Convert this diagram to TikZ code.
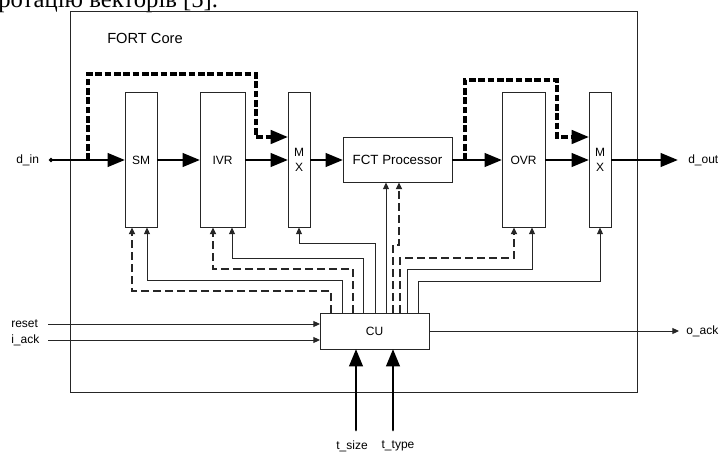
\documentclass[tikz,border=0pt]{standalone}
\usepackage{fontspec}
\setmainfont{Liberation Sans}
\newfontfamily\textserif{Liberation Serif}
\usepackage{tikz}
\usetikzlibrary{arrows.meta,positioning,calc}

\begin{document}
\begin{tikzpicture}[
    x=0.75pt, y=-0.75pt,
    every node/.style={
        font=\fontsize{9}{10.8}\selectfont
    },
    box/.style={
        draw=black!85,
        line width=0.75pt,
        rectangle,
        align=center,
        inner sep=0pt,
        outer sep=0pt,
        minimum height=101.25pt
    },
    lbl/.style={inner sep=0pt},
    bus/.style={-{Triangle[length=13pt,width=10pt]}, line width=2.2pt},
    bypass/.style={bus, line width=2.6pt, dash pattern=on 5pt off 2pt},
    ctl/.style={-{Triangle[length=5pt,width=4.5pt]}, line width=0.75pt, black!85},
    ctldash/.style={ctl, line width=1.6pt, dash pattern=on 6pt off 3pt}
]
\useasboundingbox (0,0) rectangle (720,452);

%--- end of the text line above the figure ---%
\node[lbl, anchor=base west, font=\textserif\fontsize{18.5}{20}\selectfont]
    (prevtext) at (-2,8) {ротацію векторів [5].};

%-----------------------------------------------
% FORT CORE FRAME
%-----------------------------------------------
\node[draw=black!85, line width=0.75pt, inner sep=0pt,
      minimum width=425.25pt, minimum height=285pt]
    (core) at (353.5,202) {};
\node[lbl, anchor=west, font=\fontsize{11}{13}\selectfont]
    (corelbl) at (107,38) {FORT Core};

%-----------------------------------------------
% DATA PATH
%-----------------------------------------------
\node[box, minimum width=24pt] (sm) at (141,160) {SM};

\node[box, minimum width=33.75pt,
      right=32.25pt of sm]
    (ivr) {IVR};

\node[box, minimum width=16.5pt,
      right=32.25pt of ivr]
    (mx1) {M\\X};

\node[box, minimum width=81.75pt,
      minimum height=33.75pt,
      font=\fontsize{10}{12}\selectfont,
      right=24.75pt of mx1]
    (fct) {FCT Processor};

\node[box, minimum width=32.25pt,
      right=37.5pt of fct]
    (ovr) {OVR};

\node[box, minimum width=16.5pt,
      right=33pt of ovr]
    (mx2) {M\\X};

%-----------------------------------------------
% CONTROL UNIT
%-----------------------------------------------
\node[box, minimum width=81.75pt, minimum height=27pt]
    (cu) at (374.5,331) {CU};

%-----------------------------------------------
% PORTS
%-----------------------------------------------
\coordinate (dinstart) at (49,160);
\coordinate (doutend)  at (678,160);
\coordinate (resetin)  at (48,324);
\coordinate (iackin)   at (48,340);
\coordinate (oackout)  at (679,331);
\coordinate (tsizein)  at (356,430);
\coordinate (ttypein)  at (393,430);
\coordinate (fctctl)   at ($(fct.south)+(-11.5,0)$);

\node[lbl, anchor=west] (dinlbl)   at (16,160)  {d\_in};
\node[lbl, anchor=west] (doutlbl)  at (688,160) {d\_out};
\node[lbl, anchor=west] (resetlbl) at (11,324)  {reset};
\node[lbl, anchor=west] (iacklbl)  at (11,340)  {i\_ack};
\node[lbl, anchor=west] (oacklbl)  at (686,331) {o\_ack};
\node[lbl] (tsizelbl) at (352,446) {t\_size};
\node[lbl] (ttypelbl) at (398,446) {t\_type};

%-----------------------------------------------
% DATA ARROWS
%-----------------------------------------------
\draw[bus, {Circle[length=3pt]}-{Triangle[length=13pt,width=10pt]}]
    (dinstart) -- (sm);
\draw[bus] (sm)  -- (ivr);
\draw[bus] (ivr) -- (mx1);
\draw[bus] (mx1) -- (fct);
\draw[bus] (fct) -- (ovr);
\draw[bus] (ovr) -- (mx2);
\draw[bus] (mx2) -- (doutend);

% bypass paths into the multiplexers
\draw[bypass] ($(sm.west)+(-37,0)$) |- ($(mx1.west)+(-32,-86)$)
    |- ($(mx1.west)+(0,-23)$);
\draw[bypass] ($(fct.east)+(13,0)$) |- ($(mx2.west)+(-32,-80)$)
    |- ($(mx2.west)+(0,-23)$);

% task inputs
\draw[bus, line cap=round] (tsizein) -- (tsizein |- cu.south);
\draw[bus, line cap=round] (ttypein) -- (ttypein |- cu.south);

%-----------------------------------------------
% CONTROL SIGNALS
%-----------------------------------------------
\draw[ctl] (resetin) -- (resetin -| cu.west);
\draw[ctl] (iackin)  -- (iackin -| cu.west);
\draw[ctl] (cu) -- (oackout);

\draw[ctldash] ($(cu.north west)+(11,0)$) -- ++(0,-22) -| ($(sm.south)+(-9,0)$);
\draw[ctl]     ($(cu.north west)+(22,0)$) -- ++(0,-33) -| ($(sm.south)+(6,0)$);
\draw[ctldash] ($(cu.north west)+(33,0)$) -- ++(0,-44) -| ($(ivr.south)+(-9.5,0)$);
\draw[ctl]     ($(cu.north west)+(43,0)$) -- ++(0,-55) -| ($(ivr.south)+(9.5,0)$);
\draw[ctl]     ($(cu.north west)+(55,0)$) -- ++(0,-70) -| (mx1.south);
\draw[ctl]     (fctctl |- cu.north) -- (fctctl);
\draw[ctldash] ($(cu.north west)+(73,0)$) -- ++(0,-68) -| ($(fct.south)+(1.5,0)$);
\draw[ctldash] ($(cu.north west)+(80,0)$) -- ++(0,-55) -| ($(ovr.south)+(-9.5,0)$);
\draw[ctl]     ($(cu.north west)+(87,0)$) -- ++(0,-44) -| ($(ovr.south)+(8.5,0)$);
\draw[ctl]     ($(cu.north west)+(98,0)$) -- ++(0,-32) -| (mx2.south);

\end{tikzpicture}
\end{document}
